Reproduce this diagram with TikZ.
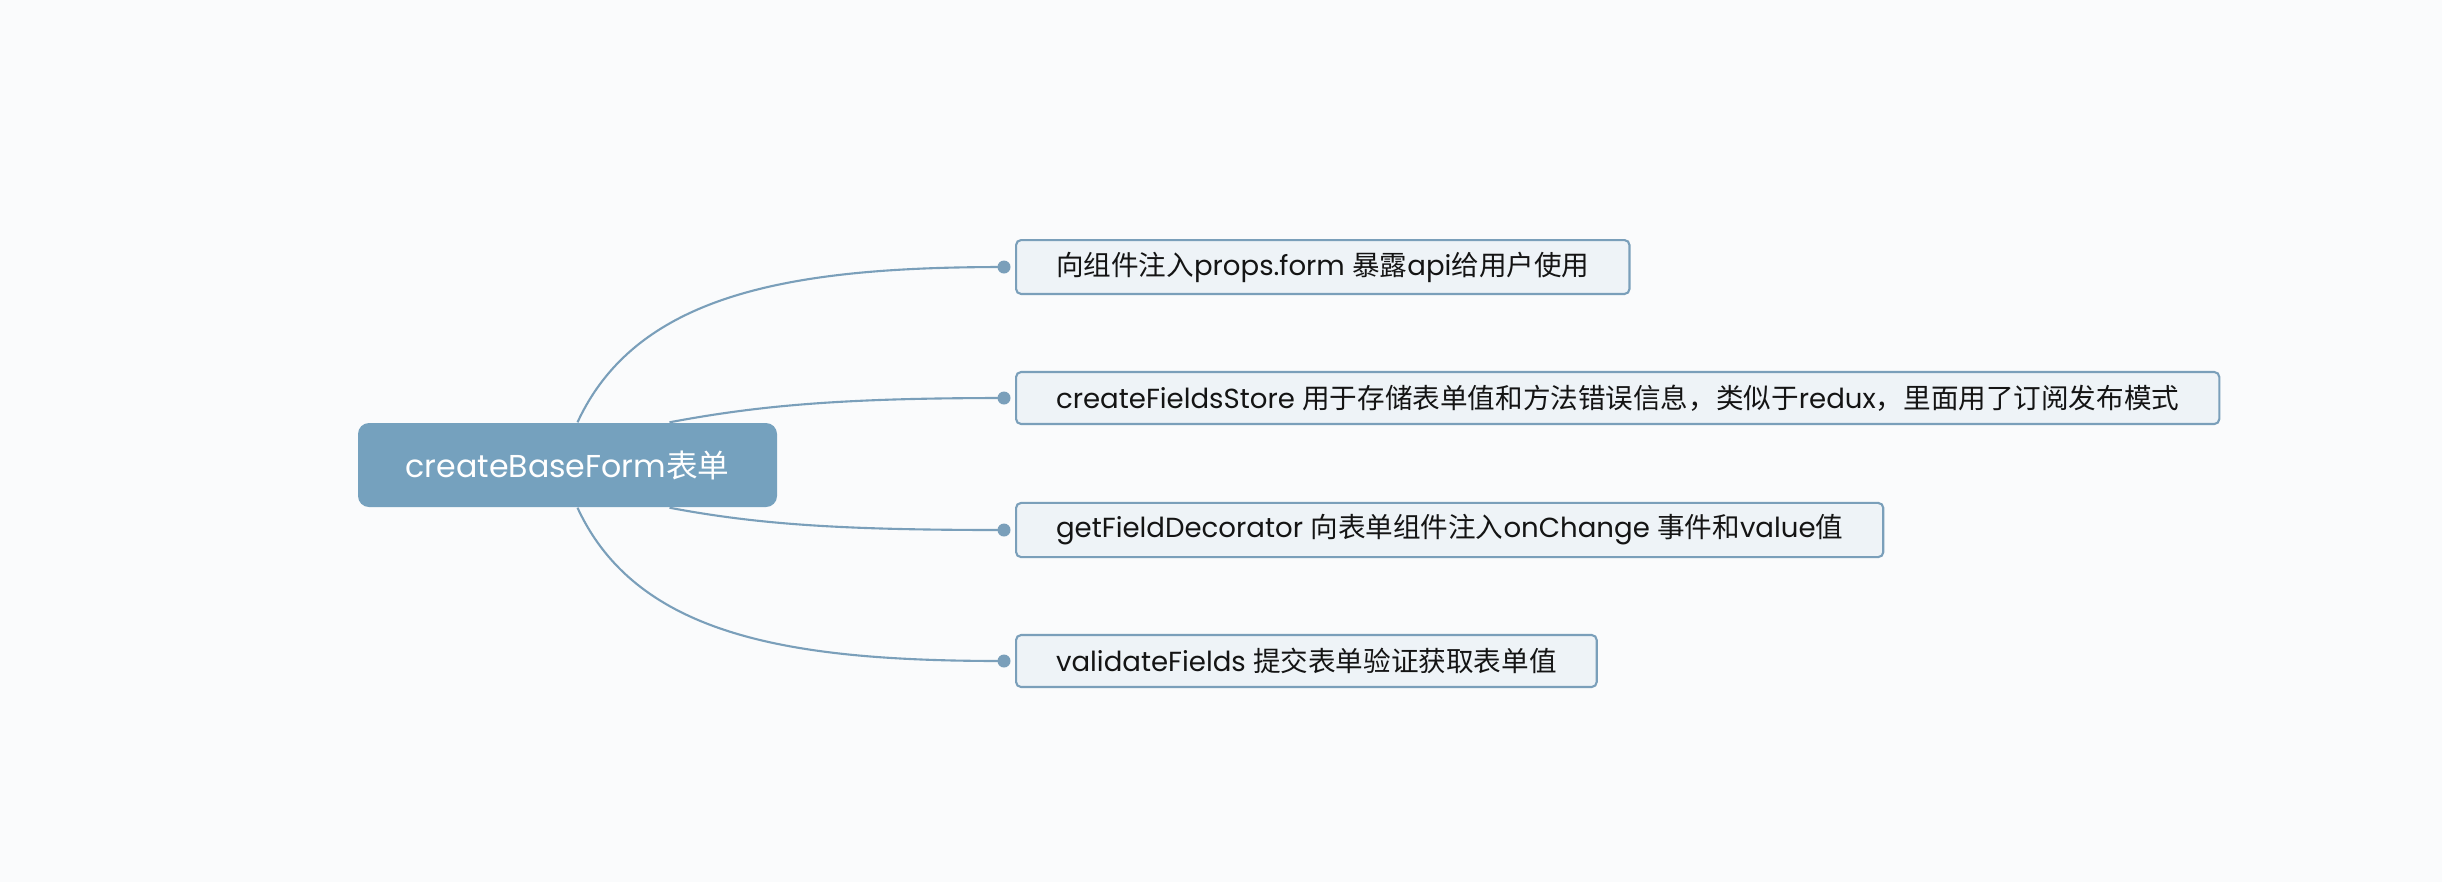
\documentclass[tikz,border=0pt]{standalone}
\usepackage{fontspec}
\setmainfont{Poppins}
\newfontfamily\zhfont{Noto Sans CJK SC}
\newcommand{\zh}[1]{{\zhfont #1}}
\usetikzlibrary{positioning}
\definecolor{rootblue}{HTML}{75A1BE}
\definecolor{leafline}{HTML}{7A9FBA}
\definecolor{leaffill}{HTML}{EEF3F7}
\definecolor{paper}{HTML}{FAFBFC}

\begin{document}
\begin{tikzpicture}[
    root/.style={rounded corners=0.11cm, fill=rootblue, text=white, minimum width=4.19cm, minimum height=0.84cm, font=\fontsize{9}{11}\selectfont},
    leaf/.style={draw=leafline, line width=0.6pt, rounded corners=0.05cm, fill=leaffill, anchor=west, minimum height=0.52cm, inner xsep=0.4cm, text=black!92, font=\fontsize{7.85}{9}\selectfont},
    branch/.style={draw=leafline, line width=0.6pt},
    dot/.style={fill=leafline}
  ]
    \fill[paper] (0,0) rectangle (24.42,-8.82);
    \useasboundingbox (0,0) rectangle (24.42,-8.82);
    \node[root] (root) at (5.675,-4.65) {createBaseForm\zh{表单}};
    \node[leaf] (props) at (10.15,-2.67) {\zh{向组件注入}props.form \zh{暴露}api\zh{给用户使用}};
    \node[leaf] (store) at (10.15,-3.98) {createFieldsStore \zh{用于存储表单值和方法错误信息，类似于}redux\zh{，里面用了订阅发布模式}};
    \node[leaf] (decorator) at (10.15,-5.30) {getFieldDecorator \zh{向表单组件注入}onChange \zh{事件和}value\zh{值}};
    \node[leaf] (validate) at (10.15,-6.61) {validateFields \zh{提交表单验证获取表单值}};
    \coordinate (d1) at ([xshift=-0.11cm]props.west);
    \coordinate (d2) at ([xshift=-0.11cm]store.west);
    \coordinate (d3) at ([xshift=-0.11cm]decorator.west);
    \coordinate (d4) at ([xshift=-0.11cm]validate.west);
    \draw[branch] ([xshift=0.1cm]root.north) .. controls +(0.6,1.3) and +(-2.1,0) .. (d1);
    \draw[branch] ([xshift=1.02cm]root.north) .. controls +(0.9,0.17) and +(-1.6,0) .. (d2);
    \draw[branch] ([xshift=1.02cm]root.south) .. controls +(0.9,-0.17) and +(-1.6,0) .. (d3);
    \draw[branch] ([xshift=0.1cm]root.south) .. controls +(0.6,-1.3) and +(-2.1,0) .. (d4);
    \foreach \d in {d1,d2,d3,d4}
      \fill[dot] (\d) circle (0.065cm);
\end{tikzpicture}
\end{document}
